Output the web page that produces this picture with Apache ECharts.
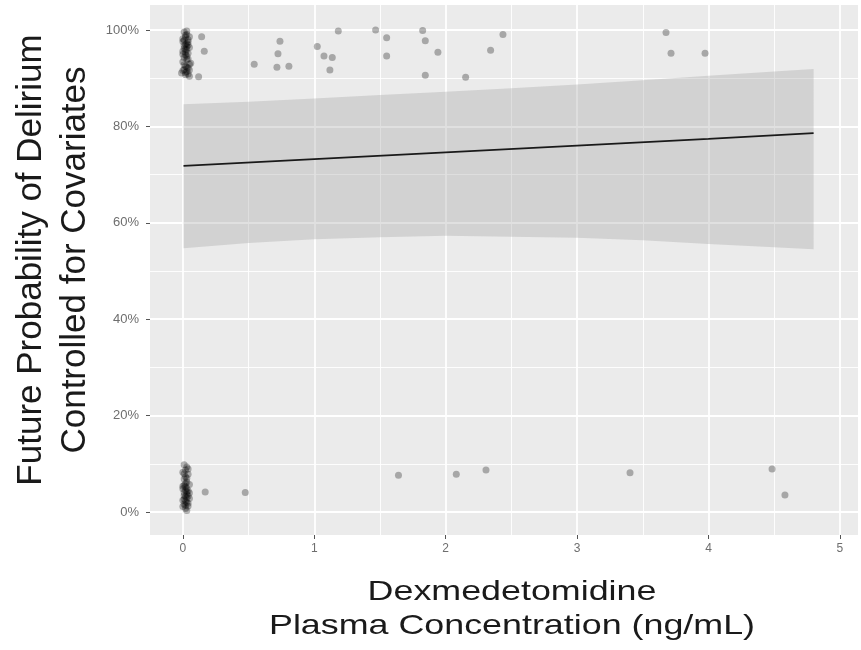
<!DOCTYPE html>
<html>
<head>
<meta charset="utf-8">
<script src="https://cdn.jsdelivr.net/npm/echarts@6/dist/echarts.min.js"></script>
<style>html,body{margin:0;padding:0;background:#fff}#c{width:861px;height:650px}</style>
</head>
<body>
<div id="c"></div>
<script>
// ---- data ----
const xTicks = [0, 1, 2, 3, 4, 5];
const yTickLabels = ['0%', '20%', '40%', '60%', '80%', '100%'];

// fitted line (x in ng/mL, y in %)
const fitX = [0.005, 1, 2, 3, 4, 4.8];
const fitY = [71.8, 73.2, 74.6, 76.0, 77.4, 78.6];

// confidence ribbon
const bandX = [0.005, 0.5, 1, 1.5, 2, 2.5, 3, 3.5, 4, 4.5, 4.8];
const bandUpper = [84.6, 85.1, 85.8, 86.5, 87.2, 87.9, 88.7, 89.6, 90.5, 91.4, 91.9];
const bandLower = [54.7, 55.8, 56.6, 57.0, 57.3, 57.1, 56.9, 56.4, 55.6, 54.9, 54.5];

// observed points: cluster at zero concentration, upper group
const zeroTop = [[0.01,99.6],[0.03,99.1],[0.02,98.5],[0.04,98.0],[0.00,97.6],[0.03,97.2],[0.01,96.8],[0.05,96.4],[0.02,96.0],[0.00,95.6],[0.04,95.2],[0.02,94.8],[0.01,94.3],[0.03,93.9],[0.00,93.4],[0.05,92.9],[0.02,92.5],[0.04,92.1],[0.01,91.8],[0.03,91.4],[-0.01,91.1],[0.02,90.7],[0.05,90.4],[0.03,96.6],[0.01,97.9],[0.04,94.0],
  [0.02,98.9],[0.00,98.2],[0.04,97.5],[0.02,97.0],[0.05,98.6],[0.01,96.2],[0.03,95.9],[0.00,95.0],[0.04,96.9],[0.02,95.4],[0.03,94.6],[0.01,92.8],[0.03,92.3],[0.00,91.6],[0.05,91.7],[0.02,91.2],[0.04,90.9],[0.03,99.8],[0.06,93.1]];
// cluster at zero concentration, lower group
const zeroBottom = [[0.01,9.8],[0.03,9.3],[0.02,8.7],[0.00,8.2],[0.04,7.8],[0.02,7.3],[0.01,6.8],[0.03,6.2],[0.05,5.7],[0.02,5.2],[0.00,4.8],[0.04,4.4],[0.01,4.0],[0.03,3.6],[0.02,3.2],[0.05,2.8],[0.00,2.4],[0.03,2.0],[0.01,1.6],[0.04,1.2],[0.02,0.7],[0.03,0.3],[0.01,5.5],[0.03,4.2],
  [0.04,8.9],[0.01,7.9],[0.03,7.0],[0.02,5.9],[0.00,5.3],[0.03,4.9],[0.02,4.5],[0.05,3.9],[0.01,3.4],[0.03,2.9],[0.02,2.2],[0.04,1.8],[0.00,1.1],[0.02,1.4],[0.04,3.3],[0.01,2.6]];
// non-zero concentration, upper group
const upperPoints = [[0.143,98.6],[0.163,95.6],[0.12,90.3],[0.543,92.9],[0.739,97.7],[0.724,95.1],[0.716,92.3],[0.807,92.5],[1.023,96.6],[1.074,94.6],[1.137,94.3],[1.119,91.7],[1.183,99.8],[1.467,100.0],[1.551,98.4],[1.551,94.6],[1.825,99.9],[1.845,97.8],[1.941,95.4],[1.845,90.6],[2.152,90.2],[2.342,95.8],[2.436,99.1],[3.677,99.5],[3.715,95.2],[3.974,95.2]];
// non-zero concentration, lower group
const lowerPoints = [[0.17,4.1],[0.475,4.0],[1.641,7.6],[2.081,7.8],[2.307,8.7],[3.403,8.1],[4.484,8.9],[4.582,3.5]];

// ---- chart ----
const FONT = '"Liberation Sans", Arial, Helvetica, sans-serif';
const chart = echarts.init(document.getElementById('c'), null, {renderer: 'canvas'});
const allPoints = zeroTop.concat(zeroBottom, upperPoints, lowerPoints);

const option = {
  animation: false,
  backgroundColor: '#ffffff',
  grid: [
    {left: 150, right: 3, top: 5, bottom: 115, show: true, backgroundColor: '#ebebeb', borderWidth: 0, z: 0},
    {left: 150, right: 3, top: 30, bottom: 138, z: 1},
    {left: 182.9, right: 21.1, top: 5, bottom: 115, z: 1}
  ],
  xAxis: [
    {gridIndex: 0, type: 'value', min: -0.25, max: 5.138, show: false},
    {gridIndex: 1, type: 'value', min: 0, max: 1, show: false},
    {gridIndex: 2, type: 'value', min: xTicks[0], max: xTicks[xTicks.length - 1], interval: 1, z: 1,
      axisLine: {show: false},
      axisTick: {show: true, length: 4, lineStyle: {color: '#555', width: 1}},
      axisLabel: {margin: 8, color: '#6e6e6e', fontSize: 12, fontFamily: FONT,
        formatter: v => xTicks.indexOf(v) >= 0 ? String(v) : ''},
      splitLine: {show: true, lineStyle: {color: '#ffffff', width: 1.8}},
      minorTick: {show: false, splitNumber: 2},
      minorSplitLine: {show: true, lineStyle: {color: '#ffffff', width: 0.9}}
    }
  ],
  yAxis: [
    {gridIndex: 0, type: 'value', min: -4.8, max: 105.2, show: false},
    {gridIndex: 1, type: 'value', min: 0, max: 100, interval: 20, z: 1,
      axisLine: {show: false},
      axisTick: {show: true, length: 4, lineStyle: {color: '#555', width: 1}},
      axisLabel: {margin: 11, color: '#6e6e6e', fontSize: 13, fontFamily: FONT,
        formatter: v => yTickLabels[Math.round(v / 20)] || ''},
      splitLine: {show: true, lineStyle: {color: '#ffffff', width: 1.8}},
      minorTick: {show: false, splitNumber: 2},
      minorSplitLine: {show: true, lineStyle: {color: '#ffffff', width: 0.9}}
    },
    {gridIndex: 2, type: 'value', min: 0, max: 1, show: false}
  ],
  series: [
    {
      type: 'custom', xAxisIndex: 0, yAxisIndex: 0, z: 3, silent: true,
      data: bandX.map((x, i) => [x, bandLower[i], bandUpper[i]]),
      renderItem: function (params, api) {
        if (params.dataIndex !== 0) return null;
        const pts = [];
        for (let i = 0; i < bandX.length; i++) pts.push(api.coord([bandX[i], bandUpper[i]]));
        for (let i = bandX.length - 1; i >= 0; i--) pts.push(api.coord([bandX[i], bandLower[i]]));
        return {type: 'polygon', shape: {points: pts}, style: {fill: 'rgba(153,153,153,0.3)', stroke: null}};
      }
    },
    {
      type: 'line', xAxisIndex: 0, yAxisIndex: 0, z: 4, silent: true,
      data: fitX.map((x, i) => [x, fitY[i]]),
      showSymbol: false, symbol: 'none',
      lineStyle: {color: '#1a1a1a', width: 1.8}
    },
    {
      type: 'scatter', xAxisIndex: 0, yAxisIndex: 0, z: 5, silent: true,
      data: allPoints, symbolSize: 7,
      itemStyle: {color: 'rgba(0,0,0,0.36)', borderWidth: 0}
    }
  ],
  graphic: [
    {type: 'text', x: 53, y: 260, rotation: Math.PI / 2, z: 10,
      style: {text: 'Future Probability of Delirium\nControlled for Covariates', font: '35px ' + FONT,
        fill: '#1a1a1a', align: 'center', verticalAlign: 'middle', lineHeight: 44}},
    {type: 'text', x: 512, y: 609, scaleX: 1.28, z: 10,
      style: {text: 'Dexmedetomidine\nPlasma Concentration (ng/mL)', font: '28px ' + FONT,
        fill: '#1a1a1a', align: 'center', verticalAlign: 'middle', lineHeight: 34}}
  ]
};
chart.setOption(option);
</script>
</body>
</html>
